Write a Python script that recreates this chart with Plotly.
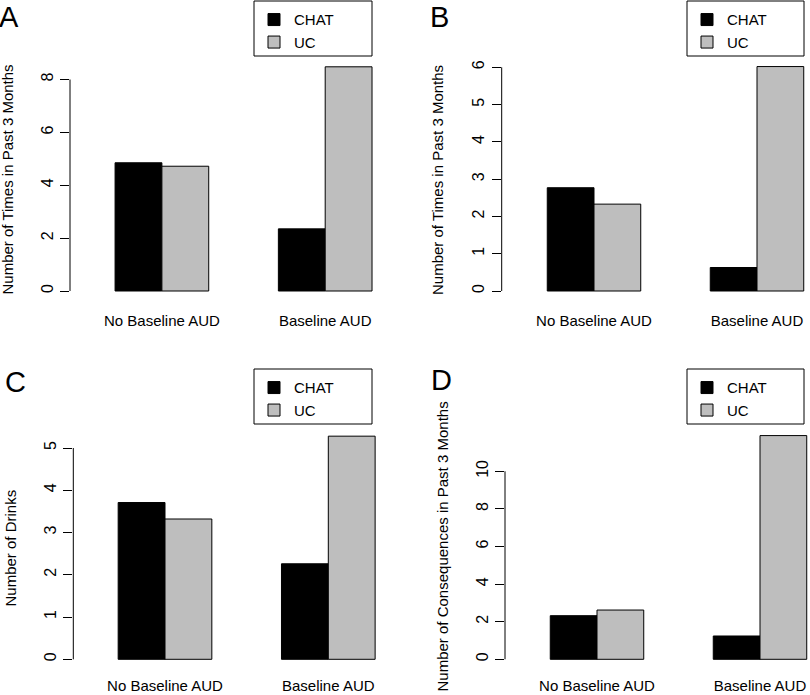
import plotly.graph_objects as go

categories = ["No Baseline AUD", "Baseline AUD"]
series_names = ["CHAT", "UC"]

a_chat = [4.85, 2.35]
a_uc = [4.72, 8.48]
b_chat = [2.77, 0.63]
b_uc = [2.33, 6.02]
c_chat = [3.71, 2.26]
c_uc = [3.32, 5.28]
d_chat = [2.32, 1.24]
d_uc = [2.62, 11.9]

a_ticks = [0, 2, 4, 6, 8]
b_ticks = [0, 1, 2, 3, 4, 5, 6]
c_ticks = [0, 1, 2, 3, 4, 5]
d_ticks = [0, 2, 4, 6, 8, 10]

titles = ["Number of Times in Past 3 Months", "Number of Times in Past 3 Months",
          "Number of Drinks", "Number of Consequences in Past 3 Months"]
letters = ["A", "B", "C", "D"]

W, H = 810, 695
FONT = "Liberation Sans, Arial, Helvetica, sans-serif"
COLORS = ["#000000", "#BEBEBE"]

# per-panel pixel geometry
panels = [
    dict(chat=a_chat, uc=a_uc, ticks=a_ticks, axis_x=70, right=400, c0=161.9, sp=163.3,
         zero=291.0, top_tick_px=79.5, dom_bot=310, dom_top=60,
         legend_box=(254, 1, 372, 56), title_x=7.5, title_y=180, letter=(-3, 17)),
    dict(chat=b_chat, uc=b_uc, ticks=b_ticks, axis_x=501.7, right=810, c0=594.0, sp=163.0,
         zero=291.0, top_tick_px=67.3, dom_bot=310, dom_top=60,
         legend_box=(687, 1, 804, 56), title_x=438, title_y=180, letter=(428, 17)),
    dict(chat=c_chat, uc=c_uc, ticks=c_ticks, axis_x=73.3, right=400, c0=165.0, sp=163.3,
         zero=659.3, top_tick_px=448.0, dom_bot=675, dom_top=425,
         legend_box=(254, 369, 372, 424), title_x=10, title_y=548.5, letter=(3, 382)),
    dict(chat=d_chat, uc=d_uc, ticks=d_ticks, axis_x=505, right=810, c0=597.0, sp=163.0,
         zero=659.3, top_tick_px=471.3, dom_bot=675, dom_top=425,
         legend_box=(687, 369, 804, 424), title_x=441.5, title_y=547, letter=(429, 380)),
]

fig = go.Figure()
shapes = []
annotations = []
layout = {}

for i, p in enumerate(panels):
    n = "" if i == 0 else str(i + 1)
    xa, ya = "x" + n, "y" + n
    leg = "legend" + n
    for name, vals, col in zip(series_names, [p["chat"], p["uc"]], COLORS):
        fig.add_trace(go.Bar(
            x=categories, y=vals, name=name, xaxis=xa, yaxis=ya, legend=leg,
            marker=dict(color=col, line=dict(color="#000000", width=1)),
            hoverinfo="x+y+name",
        ))
    unit = (p["zero"] - p["top_tick_px"]) / p["ticks"][-1]
    ylo = -(p["dom_bot"] - p["zero"]) / unit
    yhi = (p["zero"] - p["dom_top"]) / unit
    xlo = (p["axis_x"] - p["c0"]) / p["sp"]
    xhi = (p["right"] - p["c0"]) / p["sp"]
    layout["xaxis" + n] = dict(
        domain=[p["axis_x"] / W, p["right"] / W], range=[xlo, xhi], type="category",
        anchor=ya, showline=False, showgrid=False, zeroline=False, ticks="",
        automargin=False,
        tickfont=dict(size=15, color="black", family=FONT), fixedrange=True,
    )
    layout["yaxis" + n] = dict(
        domain=[1 - p["dom_bot"] / H, 1 - p["dom_top"] / H], range=[ylo, yhi],
        anchor=xa, showline=False, showgrid=False, zeroline=False, automargin=False,
        tickmode="array", tickvals=p["ticks"], ticktext=[str(t) for t in p["ticks"]],
        ticks="outside", ticklen=9, tickwidth=1, tickcolor="black", tickangle=-90,
        ticklabelstandoff=1,
        tickfont=dict(size=16, color="black", family=FONT), fixedrange=True,
    )
    # axis line spanning the tick range only (R style)
    shapes.append(dict(type="line", xref="paper", yref=ya,
                       x0=p["axis_x"] / W, x1=p["axis_x"] / W,
                       y0=p["ticks"][0], y1=p["ticks"][-1],
                       line=dict(color="black", width=1)))
    # legend box
    lx0, ly0, lx1, ly1 = p["legend_box"]
    shapes.append(dict(type="rect", xref="paper", yref="paper",
                       x0=lx0 / W, x1=lx1 / W, y0=1 - ly1 / H, y1=1 - ly0 / H,
                       line=dict(color="black", width=1)))
    layout[leg] = dict(
        x=lx0 / W, y=1 - (ly0 + 2.3) / H, xanchor="left", yanchor="top",
        bgcolor="rgba(0,0,0,0)", borderwidth=0,
        font=dict(size=15, color="black", family=FONT), tracegroupgap=0,
    )
    annotations.append(dict(text=titles[i], xref="paper", yref="paper",
                            x=p["title_x"] / W, y=1 - p["title_y"] / H,
                            xanchor="center", yanchor="middle", textangle=-90,
                            showarrow=False,
                            font=dict(size=15, color="black", family=FONT)))
    lx, ly = p["letter"]
    annotations.append(dict(text=letters[i], xref="paper", yref="paper",
                            x=lx / W, y=1 - ly / H, xanchor="left", yanchor="middle",
                            showarrow=False,
                            font=dict(size=29, color="black", family=FONT)))

fig.update_layout(
    width=W, height=H, margin=dict(l=0, r=0, t=0, b=0, pad=0, autoexpand=False),
    paper_bgcolor="white", plot_bgcolor="white",
    barmode="group", bargap=0.4265, bargroupgap=0,
    shapes=shapes, annotations=annotations, showlegend=True,
    font=dict(family=FONT, color="black"),
    **layout,
)

fig.write_html("out.html", config={"displayModeBar": False},
               post_script="document.body.style.margin='0';")
